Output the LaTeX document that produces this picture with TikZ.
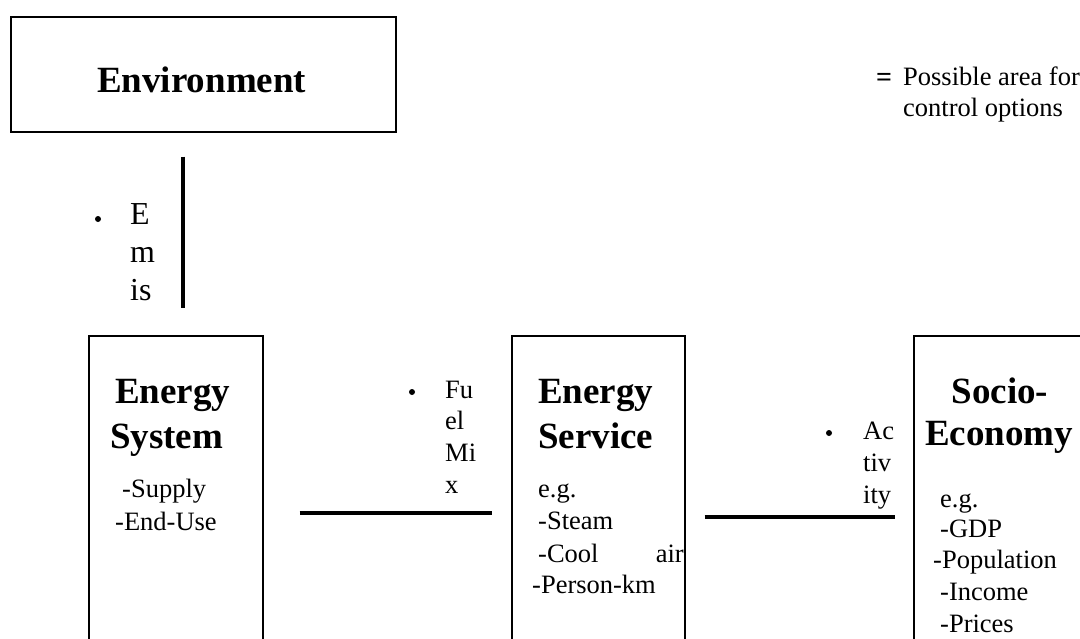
\documentclass[tikz,border=0pt]{standalone}
\usepackage{fontspec}
\setmainfont{Liberation Serif}
\begin{document}
\begin{tikzpicture}[x=1pt,y=-1pt,
  box/.style={draw,line width=1.6pt,inner sep=0pt,anchor=north west},
  head/.style={font=\fontsize{37}{45}\selectfont\bfseries,inner sep=0pt,anchor=base west},
  body/.style={font=\fontsize{26.5}{31}\selectfont,inner sep=0pt,anchor=base west},
  lbl/.style={font=\fontsize{26.5}{31.6}\selectfont,inner sep=0pt,anchor=base west,align=left},
  dot/.style={circle,fill=black,inner sep=0pt,minimum size=6pt},
  link/.style={line width=4pt}]
\useasboundingbox (0,0) rectangle (1080,638);
\clip (0,0) rectangle (1080,638);
% boxes
\node[box,minimum width=385pt,minimum height=115pt] (env) at (10,16) {};
\node[box,minimum width=174pt,minimum height=380pt] (esys) at (88,335) {};
\node[box,minimum width=173pt,minimum height=380pt] (esvc) at (511,335) {};
\node[box,minimum width=170pt,minimum height=380pt] (soc) at (913,335) {};
% titles
\node[head] (envt) at (97,92) {Environment};
\node[head] (esys1) at (115,403) {Energy};
\node[head] (esys2) at (110,448) {System};
\node[body] (esysa) at (122,497) {-Supply};
\node[body] (esysb) at (115,530) {-End-Use};
\node[head] (esvc1) at (538,403) {Energy};
\node[head] (esvc2) at (538,448) {Service};
\node[body] (esvca) at (538,497) {e.g.};
\node[body] (esvcb) at (538,529) {-Steam};
\node[body] (esvcc) at (538,562) {-Cool};
\node[body,anchor=base east] (esvcd) at (684,562) {air};
\node[body] (esvce) at (532,593) {-Person-km};
\node[head,anchor=base] (soc1) at (1000,403) {Socio-};
\node[head] (soc2) at (925,445) {Economy};
\node[body] (soca) at (940,507) {e.g.};
\node[body] (socb) at (940,537) {-GDP};
\node[body] (socc) at (933,568) {-Population};
\node[body] (socd) at (940,600) {-Income};
\node[body] (soce) at (940,632) {-Prices};
% legend
\node[font=\fontsize{28}{31}\selectfont\bfseries,inner sep=0pt,anchor=base west] (eq) at (876,86) {=};
\node[body,align=left] (leg) at (903,116) {Possible area for\\control options};
% connectors
\draw[link,shorten <=24pt,shorten >=27pt] (env.south -| 183,0) -- (esys.north -| 183,0);
\draw[link,shorten <=36pt,shorten >=19pt] (esys.east |- 0,513) -- (esvc.west |- 0,513);
\draw[link,shorten <=19pt,shorten >=18pt] (esvc.east |- 0,517) -- (soc.west |- 0,517);
% labels of connectors
\node[dot] (d1) at (98,219) {};
\node[font=\fontsize{32}{38}\selectfont,inner sep=0pt,anchor=base west,align=left] (emis) at (130,300) {E\\m\\is};
\node[dot] (d2) at (412,392) {};
\node[lbl] (fuel) at (445,493) {Fu\\el\\Mi\\x};
\node[dot] (d3) at (829,433) {};
\node[lbl] (act) at (863,503) {Ac\\tiv\\ity};
\end{tikzpicture}
\end{document}
